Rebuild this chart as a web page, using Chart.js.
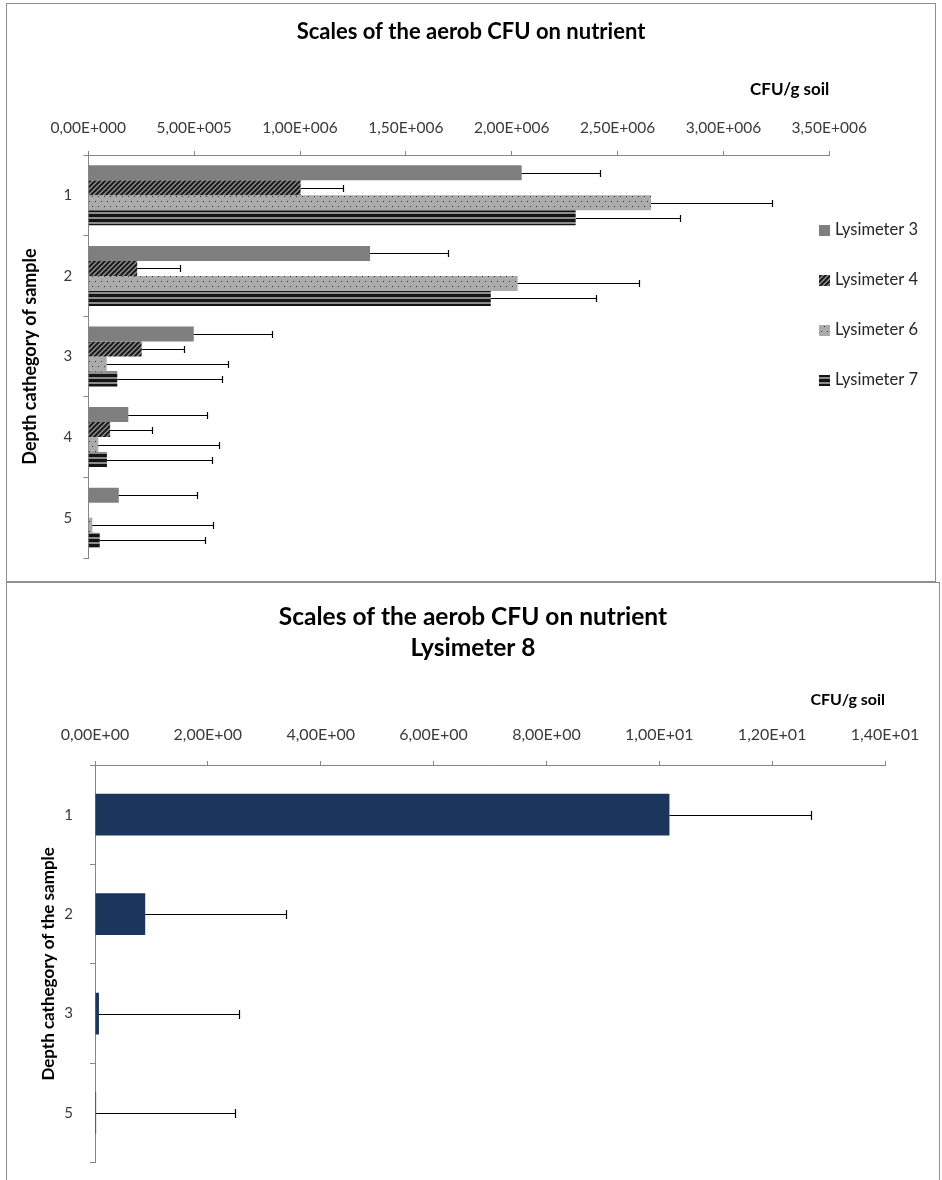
<!DOCTYPE html>
<html>
<head>
<meta charset="utf-8">
<script src="https://cdn.jsdelivr.net/npm/chart.js@4.4.1/dist/chart.umd.min.js"></script>
<style>
  html, body { margin: 0; padding: 0; background: #fff; }
  body { width: 942px; height: 1180px; overflow: hidden; position: relative; }
  .panel { position: absolute; border: 1px solid #8f8f8f; background: #fff; }
  #p1 { left: 6px; top: 3px; width: 928px; height: 577px; }
  #p2 { left: 6px; top: 582px; width: 932px; height: 620px; }
  canvas { display: block; }
</style>
</head>
<body>
<div class="panel" id="p1"><canvas id="cfuAll"></canvas></div>
<div class="panel" id="p2"><canvas id="cfuL8"></canvas></div>
<script>
"use strict"

// depth categories and CFU/g soil per lysimeter
const depthAll = ['1', '2', '3', '4', '5'];
const seriesNames = ['Lysimeter 3', 'Lysimeter 4', 'Lysimeter 6', 'Lysimeter 7'];
const lys3 = [2.047e6, 1.331e6, 4.98e5, 1.89e5, 1.44e5];
const lys4 = [1.003e6, 2.31e5, 2.52e5, 1.03e5, null];
const lys6 = [2.658e6, 2.028e6, 8.7e4, 4.7e4, 1.9e4];
const lys7 = [2.302e6, 1.901e6, 1.37e5, 8.8e4, 5.4e4];
// plus-only error bars
const lys3Err = [3.7e5, 3.7e5, 3.7e5, 3.7e5, 3.7e5];
const lys4Err = [2.0e5, 2.0e5, 2.0e5, 2.0e5, null];
const lys6Err = [5.72e5, 5.72e5, 5.72e5, 5.72e5, 5.72e5];
const lys7Err = [4.95e5, 4.95e5, 4.95e5, 4.95e5, 4.95e5];
const ticksAll = ['0,00E+000', '5,00E+005', '1,00E+006', '1,50E+006',
                  '2,00E+006', '2,50E+006', '3,00E+006', '3,50E+006'];

// lysimeter 8 on its own
const depthL8 = ['1', '2', '3', '5'];
const lys8 = [10.18, 0.89, 0.07, 0.02];
const lys8Err = [2.5, 2.49, 2.49, 2.46];
const ticksL8 = ['0,00E+00', '2,00E+00', '4,00E+00', '6,00E+00',
                 '8,00E+00', '1,00E+01', '1,20E+01', '1,40E+01'];

Chart.defaults.font.family = "Lato, 'Open Sans', sans-serif";
Chart.defaults.color = '#3a3a3a';
Chart.defaults.animation = false;

// small repeating tiles for the black & white fills
function tile(w, h, paint) {
  const c = document.createElement('canvas');
  c.width = w; c.height = h;
  const g = c.getContext('2d');
  paint(g, w, h);
  return g.createPattern(c, 'repeat');
}

const fillSolid = '#7f7f7f';
const fillHatch = tile(5, 5, (g, s) => {
  g.fillStyle = '#8c8c8c';
  g.fillRect(0, 0, s, s);
  g.strokeStyle = '#1a1a1a';
  g.lineWidth = 2;
  g.beginPath();
  g.moveTo(-1, s + 1); g.lineTo(s + 1, -1);
  g.moveTo(-2, 2); g.lineTo(2, -2);
  g.moveTo(s - 2, s + 2); g.lineTo(s + 2, s - 2);
  g.stroke();
});
const fillDots = tile(6, 10, (g, w, h) => {
  g.fillStyle = '#ababab';
  g.fillRect(0, 0, w, h);
  g.fillStyle = '#333333';
  g.fillRect(1, 2, 1, 1);
  g.fillRect(4, 7, 1, 1);
});
const fillStripes = tile(1, 5, (g) => {
  g.fillStyle = '#8c8c8c';
  g.fillRect(0, 0, 1, 5);
  g.fillStyle = '#141414';
  g.fillRect(0, 0, 1, 3);
});

// horizontal error bars with a cap at the far end
const errorBars = {
  id: 'errorBars',
  afterDatasetsDraw(chart, args, opts) {
    const ctx = chart.ctx;
    const xs = chart.scales.x;
    ctx.save();
    ctx.strokeStyle = opts.color;
    ctx.lineWidth = opts.width;
    chart.data.datasets.forEach((ds, di) => {
      if (!ds.errors) return;
      chart.getDatasetMeta(di).data.forEach((bar, i) => {
        const v = ds.data[i];
        const e = ds.errors[i];
        if (v == null || e == null) return;
        const x0 = xs.getPixelForValue(v);
        const x1 = Math.round(xs.getPixelForValue(v + e)) + 0.5;
        const y = Math.round(bar.y) + 0.5;
        ctx.beginPath();
        ctx.moveTo(x0, y);
        ctx.lineTo(x1, y);
        ctx.moveTo(x1, y - opts.cap / 2);
        ctx.lineTo(x1, y + opts.cap / 2);
        ctx.stroke();
      });
    });
    ctx.restore();
  }
};

// legend column that sits over the right end of the plot
const sideLegend = {
  id: 'sideLegend',
  afterDraw(chart, args, opts) {
    const {ctx, chartArea} = chart;
    ctx.save();
    ctx.font = opts.font;
    ctx.textBaseline = 'middle';
    chart.data.datasets.forEach((ds, i) => {
      const y = chartArea.top + opts.top + i * opts.gap;
      const bx = chartArea.right + opts.dx;
      ctx.fillStyle = ds.backgroundColor;
      ctx.fillRect(bx, Math.round(y - opts.box / 2), opts.box, opts.box);
      ctx.fillStyle = opts.color;
      ctx.fillText(ds.label, bx + opts.box + 5, y);
    });
    ctx.restore();
  }
};

function fixedSize(prop, size) {
  return (scale) => { scale[prop] = size; };
}

// empty axis on the right, only reserves room so the title stays centred on the whole panel
function spacer(width) {
  return {
    type: 'category',
    position: 'right',
    grid: { display: false },
    border: { display: false },
    ticks: { display: false },
    afterFit: fixedSize('width', width)
  };
}

new Chart(document.getElementById('cfuAll'), {
  type: 'bar',
  plugins: [errorBars, sideLegend],
  data: {
    labels: depthAll,
    datasets: [
      { label: seriesNames[0], data: lys3, errors: lys3Err, backgroundColor: fillSolid },
      { label: seriesNames[1], data: lys4, errors: lys4Err, backgroundColor: fillHatch },
      { label: seriesNames[2], data: lys6, errors: lys6Err, backgroundColor: fillDots },
      { label: seriesNames[3], data: lys7, errors: lys7Err, backgroundColor: fillStripes }
    ]
  },
  options: {
    indexAxis: 'y',
    responsive: true,
    maintainAspectRatio: false,
    layout: { padding: { left: 0, right: 0, top: 0, bottom: 23 } },
    datasets: { bar: { categoryPercentage: 0.745, barPercentage: 1, borderWidth: 0 } },
    scales: {
      x: {
        type: 'linear',
        position: 'top',
        min: 0,
        max: 3.5e6,
        afterFit: fixedSize('height', 91),
        ticks: {
          stepSize: 5e5,
          maxRotation: 0,
          autoSkip: false,
          padding: 14,
          font: { size: 15.5 },
          callback: (v, i) => ticksAll[i]
        },
        grid: { drawOnChartArea: false, tickLength: 4, color: '#868686' },
        border: { color: '#868686' },
        title: {
          display: true,
          text: 'CFU/g soil',
          align: 'end',
          color: '#000',
          font: { size: 17, weight: 'bold' },
          padding: { top: 15.8, bottom: 0 }
        }
      },
      y: {
        type: 'category',
        position: 'left',
        afterFit: fixedSize('width', 81.3),
        ticks: { padding: 11, font: { size: 15 } },
        grid: { drawOnChartArea: false, tickLength: 5, offset: true, color: '#868686' },
        border: { color: '#868686' },
        title: {
          display: true,
          text: 'Depth cathegory of sample',
          color: '#000',
          font: { size: 18, weight: 'bold' },
          padding: { top: 12.2, bottom: 0 }
        }
      },
      yRight: spacer(105.7)
    },
    plugins: {
      legend: { display: false },
      tooltip: { enabled: false },
      title: {
        display: true,
        text: 'Scales of the aerob CFU on nutrient',
        color: '#000',
        font: { size: 22, weight: 'bold' },
        padding: { top: 14.8, bottom: 18.8 }
      },
      errorBars: { color: '#000', width: 1.2, cap: 7 },
      sideLegend: { font: "16.5px Lato, 'Open Sans', sans-serif", color: '#262626', box: 11, dx: -10.3, top: 75, gap: 50 }
    }
  }
});

new Chart(document.getElementById('cfuL8'), {
  type: 'bar',
  plugins: [errorBars],
  data: {
    labels: depthL8,
    datasets: [
      { label: 'Lysimeter 8', data: lys8, errors: lys8Err, backgroundColor: '#1b365d' }
    ]
  },
  options: {
    indexAxis: 'y',
    responsive: true,
    maintainAspectRatio: false,
    layout: { padding: { left: 0, right: 0, top: 0, bottom: 40.3 } },
    datasets: { bar: { categoryPercentage: 0.42, barPercentage: 1, borderWidth: 0 } },
    scales: {
      x: {
        type: 'linear',
        position: 'top',
        min: 0,
        max: 14,
        afterFit: fixedSize('height', 92),
        ticks: {
          stepSize: 2,
          maxRotation: 0,
          autoSkip: false,
          padding: 16.3,
          font: { size: 16 },
          callback: (v, i) => ticksL8[i]
        },
        grid: { drawOnChartArea: false, tickLength: 4, color: '#868686' },
        border: { color: '#868686' },
        title: {
          display: true,
          text: 'CFU/g soil',
          align: 'end',
          color: '#000',
          font: { size: 16, weight: 'bold' },
          padding: { top: 17.4, bottom: 0 }
        }
      },
      y: {
        type: 'category',
        position: 'left',
        afterFit: fixedSize('width', 88),
        ticks: { padding: 17, font: { size: 15 } },
        grid: { drawOnChartArea: false, tickLength: 5, offset: true, color: '#868686' },
        border: { color: '#868686' },
        title: {
          display: true,
          text: 'Depth cathegory of the sample',
          color: '#000',
          font: { size: 17, weight: 'bold' },
          padding: { top: 31.8, bottom: 0 }
        }
      },
      yRight: spacer(54)
    },
    plugins: {
      legend: { display: false },
      tooltip: { enabled: false },
      title: {
        display: true,
        text: ['Scales of the aerob CFU on nutrient', 'Lysimeter 8'],
        color: '#000',
        font: { size: 24.5, weight: 'bold', lineHeight: 1.278 },
        padding: { top: 18.05, bottom: 9.35 }
      },
      errorBars: { color: '#000', width: 1.2, cap: 9 }
    }
  }
});
</script>
</body>
</html>
